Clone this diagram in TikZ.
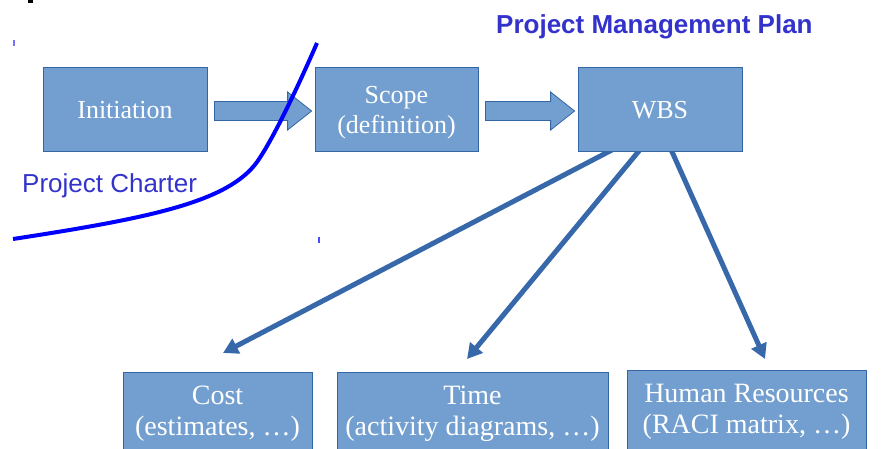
\documentclass[tikz,border=0pt]{standalone}
\usepackage{fontspec}
\setmainfont{Liberation Serif}
\newfontfamily\labelfont{Liberation Sans}
\usetikzlibrary{arrows.meta,calc,backgrounds}

\definecolor{boxfill}{RGB}{114,159,207}
\definecolor{boxline}{RGB}{52,101,164}
\definecolor{linkblue}{RGB}{54,104,170}
\definecolor{labelblue}{RGB}{51,51,204}
\definecolor{charterblue}{RGB}{0,0,255}

% wide block arrow between two stage boxes
\newcommand\blockarrow[2]{%
  \path[flowarrow] let \p1=(#1.east), \p2=(#2.west) in
    (\x1+7pt,\y1-11.5pt) -- (\x2-27pt,\y1-11.5pt) -- (\x2-27pt,\y1-21pt)
    -- (\x2-3pt,\y1-2pt) -- (\x2-27pt,\y1+17pt) -- (\x2-27pt,\y1+7.5pt)
    -- (\x1+7pt,\y1+7.5pt) -- cycle;}

\begin{document}
\begin{tikzpicture}[x=1pt,y=-1pt,
  stage/.style={draw=boxline, line width=0.8pt, fill=boxfill, text=white,
    inner sep=0pt, align=center, font=\fontsize{26}{30}\selectfont},
  lowstage/.style={stage, font=\fontsize{28}{31}\selectfont},
  flowarrow/.style={draw=boxline, line width=0.8pt, fill=boxfill},
  link/.style={draw=linkblue, line width=5pt,
    -{Triangle[length=15pt,width=16pt]}},
  caption/.style={text=labelblue, anchor=base west, inner sep=0pt,
    font=\labelfont\fontsize{26}{30}\selectfont}
]
\useasboundingbox (0,0) rectangle (882,448);
\clip (0,0) rectangle (882,448);

% stray marks
\fill[black] (28,0) rectangle (33,3);
\fill[charterblue!55] (13,40) rectangle (15,46);
\fill[charterblue!70] (318,237) rectangle (320,243);

% planning stages
\node[stage, minimum width=164pt, minimum height=84pt] (init)  at (125,109)   {\rule{0pt}{20pt}Initiation};
\node[stage, minimum width=163pt, minimum height=84pt] (scope) at (396.5,109) {\rule{0pt}{24pt}Scope\\(definition)};
\node[stage, minimum width=164pt, minimum height=84pt] (wbs)   at (660,109)   {\rule{0pt}{20pt}WBS};

% plan components
\node[lowstage, minimum width=189pt, minimum height=84pt] (cost) at (217.5,414) {Cost\\(estimates, …)};
\node[lowstage, minimum width=271pt, minimum height=84pt] (time) at (472.5,414) {Time\\(activity diagrams, …)};
\node[lowstage, minimum width=239pt, minimum height=84pt] (hr)   at (746.5,412) {Human Resources\\(RACI matrix, …)};

% block arrows along the top row
\blockarrow{init}{scope}
\blockarrow{scope}{wbs}

% WBS feeds the plan components
\coordinate (costtip) at (223,353);
\coordinate (timetip) at (467,359);
\coordinate (hrtip)   at (765,359);
\begin{scope}[on background layer]
  \draw[link] ($(wbs.south west)!0.238!(wbs.south east)+(0,-4)$) -- (costtip);
  \draw[link] ($(wbs.south west)!0.39!(wbs.south east)+(0,-4)$) -- (timetip);
  \draw[link] ($(wbs.south west)!0.561!(wbs.south east)+(0,-4)$) -- (hrtip);
\end{scope}

% boundary of the project charter
\draw[charterblue, line width=4pt]
  (13,239) .. controls (150,218) and (228,202) .. (257,162)
  .. controls (274,138) and (300,82) .. (317,43);

% labels
\node[caption] (charter) at (22,192) {Project Charter};
\node[caption, font=\labelfont\bfseries\fontsize{26}{30}\selectfont] (pmp) at (496,33) {Project Management Plan};
\end{tikzpicture}
\end{document}
